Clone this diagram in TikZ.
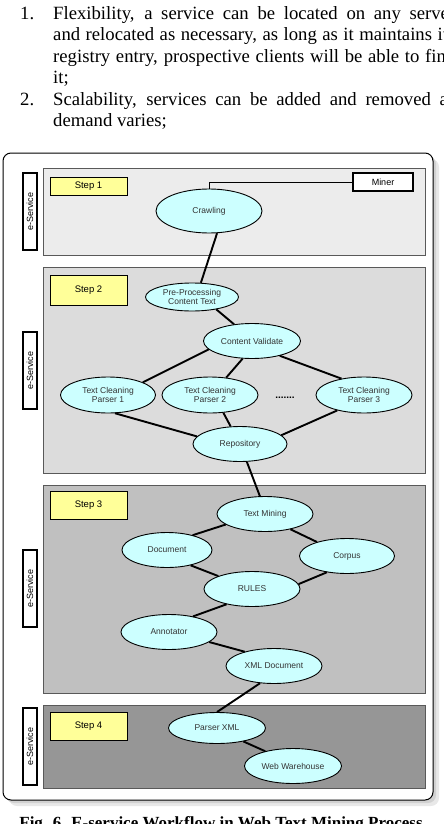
\documentclass[tikz,border=0pt]{standalone}
\usepackage{fontspec}
\setmainfont{Liberation Serif}
\newfontfamily\arialf{Liberation Sans}
\usetikzlibrary{shapes.geometric}
\definecolor{cyanfill}{HTML}{CCFFFF}
\definecolor{stepyellow}{HTML}{FFFF99}
\definecolor{gA}{HTML}{ECECEC}
\definecolor{gB}{HTML}{DCDCDC}
\definecolor{gC}{HTML}{C0C0C0}
\definecolor{gD}{HTML}{969696}
\begin{document}
\begin{tikzpicture}[x=1pt,y=-1pt,
  bodytext/.style={anchor=base west, inner sep=0pt, font=\fontsize{18.7}{21.5}\selectfont},
  ell/.style={ellipse, draw=black, line width=0.9pt, fill=cyanfill, inner sep=0pt,
    minimum width=96pt, minimum height=35pt,
    font=\arialf\fontsize{8.5}{9.5}\selectfont, text=black!80, align=center},
  link/.style={line width=1.9pt, black},
  panel/.style={rectangle, draw=black!65, line width=0.8pt, inner sep=0pt, minimum width=382pt},
  steplbl/.style={rectangle, draw=black, line width=0.9pt, fill=stepyellow, minimum width=77pt,
    inner sep=0pt, font=\arialf\fontsize{9.5}{10}\selectfont},
  esvc/.style={rectangle, draw=black, line width=1.2pt, fill=white, minimum width=77pt,
    minimum height=14pt, inner sep=0pt, rotate=90, font=\arialf\fontsize{9}{10}\selectfont},
]
\useasboundingbox (0,0) rectangle (444,824);
\clip (0,0) rectangle (444,824);

% top text
\node[bodytext] (n1) at (20,19.5) {1.};
\node[bodytext] (a1) at (53,19.5) {\makebox[402pt][s]{Flexibility, a service can be located on any server}};
\node[bodytext] (a2) at (53,41) {\makebox[402pt][s]{and relocated as necessary, as long as it maintains its}};
\node[bodytext] (a3) at (53,62.5) {\makebox[402pt][s]{registry entry, prospective clients will be able to find}};
\node[bodytext] (a4) at (53,84) {it;};
\node[bodytext] (n2) at (20,105.5) {2.};
\node[bodytext] (b1) at (53,105.5) {\makebox[402pt][s]{Scalability, services can be added and removed as}};
\node[bodytext] (b2) at (53,127) {demand varies;};

% frame with shadow
\node[rectangle, rounded corners=8pt, fill=black!9, minimum width=430pt, minimum height=647pt, inner sep=0pt] (sh2) at (224,482.5) {};
\node[rectangle, rounded corners=8pt, fill=black!18, minimum width=430pt, minimum height=647pt, inner sep=0pt] (sh1) at (221,479.5) {};
\node[rectangle, rounded corners=8pt, draw=black, line width=1pt, fill=white, minimum width=430pt, minimum height=647pt, inner sep=0pt] (frame) at (218,476.5) {};

% panels
\node[panel, fill=gA, minimum height=87pt] (s1) at (234,211.5) {};
\node[panel, fill=gB, minimum height=206pt] (s2) at (234,370) {};
\node[panel, fill=gC, minimum height=208pt] (s3) at (234,589) {};
\node[panel, fill=gD, minimum height=83pt] (s4) at (234,746.5) {};

% step labels
\node[steplbl, minimum height=18pt] (st1) at (88.5,186) {Step 1};
\node[steplbl, minimum height=30pt] (st2) at (88.5,290) {Step 2};
\node[steplbl, minimum height=28pt] (st3) at (88.5,505) {Step 3};
\node[steplbl, minimum height=28pt] (st4) at (88.5,726) {Step 4};

% e-Service labels
\node[esvc] (e1) at (30,211.5) {e-Service};
\node[esvc] (e2) at (30,370.5) {e-Service};
\node[esvc] (e3) at (30,588.5) {e-Service};
\node[esvc] (e4) at (30,746.5) {e-Service};

% Miner
\node[rectangle, draw=black, line width=1.4pt, fill=white, minimum width=60pt, minimum height=18pt,
  inner sep=0pt, font=\arialf\fontsize{9}{10}\selectfont] (miner) at (383,182) {Miner};

% ellipses
\node[ell, minimum width=106pt, minimum height=44pt] (crawl) at (209,211) {Crawling};
\node[ell, minimum width=93pt, minimum height=28pt] (pre) at (192,297) {Pre-Processing\\[-1pt]Content Text};
\node[ell, minimum width=97pt] (cv) at (252,341) {Content Validate};
\node[ell, minimum width=95pt, minimum height=36pt] (p1) at (108,395) {Text Cleaning\\Parser 1};
\node[ell, minimum height=36pt] (p2) at (210,395) {Text Cleaning\\Parser 2};
\node[inner sep=0pt, anchor=base, font=\arialf\bfseries\fontsize{10}{10}\selectfont] (dots) at (285,398) {.......};
\node[ell, minimum height=36pt] (p3) at (364,395) {Text Cleaning\\Parser 3};
\node[ell, minimum width=94pt] (repo) at (240,444) {Repository};

\node[ell] (tm) at (265,514) {Text Mining};
\node[ell, minimum width=90pt] (doc) at (167,550) {Document};
\node[ell, minimum width=95pt] (corpus) at (347,556) {Corpus};
\node[ell] (rules) at (252,589) {RULES};
\node[ell] (annot) at (169,632) {Annotator};
\node[ell] (xml) at (274,666) {XML Document};

\node[ell, minimum width=97pt, minimum height=31pt] (pxml) at (217,728) {Parser XML};
\node[ell, minimum width=97pt] (ww) at (293,766) {Web Warehouse};

% connectors
\draw[line width=0.8pt] (miner.west) -| (crawl.north);
\draw[link] (crawl.-70) -- (pre.58);
\draw[link] (pre.-27) -- (cv.137);
\draw[link] (cv.191) -- (p1.20);
\draw[link] (cv.242) -- (p2.47);
\draw[link] (cv.-28) -- (p3.144);
\draw[link] (p1.-69) -- (repo.170);
\draw[link] (p2.-53) -- (repo.118);
\draw[link] (p3.210) -- (repo.12);
\draw[link] (repo.-69) -- (tm.106);
\draw[link] (tm.195) -- (doc.30);
\draw[link] (tm.-31) -- (corpus.155);
\draw[link] (doc.-33) -- (rules.159);
\draw[link] (corpus.219) -- (rules.6);
\draw[link] (rules.211) -- (annot.33);
\draw[link] (annot.-14) -- (xml.154);
\draw[link] (xml.231) -- (pxml.90);
\draw[link] (pxml.-27) -- (ww.152);

% caption
\node[anchor=base, inner sep=0pt, font=\bfseries\fontsize{17}{20}\selectfont] (cap) at (221,828) {Fig. 6. E-service Workflow in Web Text Mining Process};
\end{tikzpicture}
\end{document}
